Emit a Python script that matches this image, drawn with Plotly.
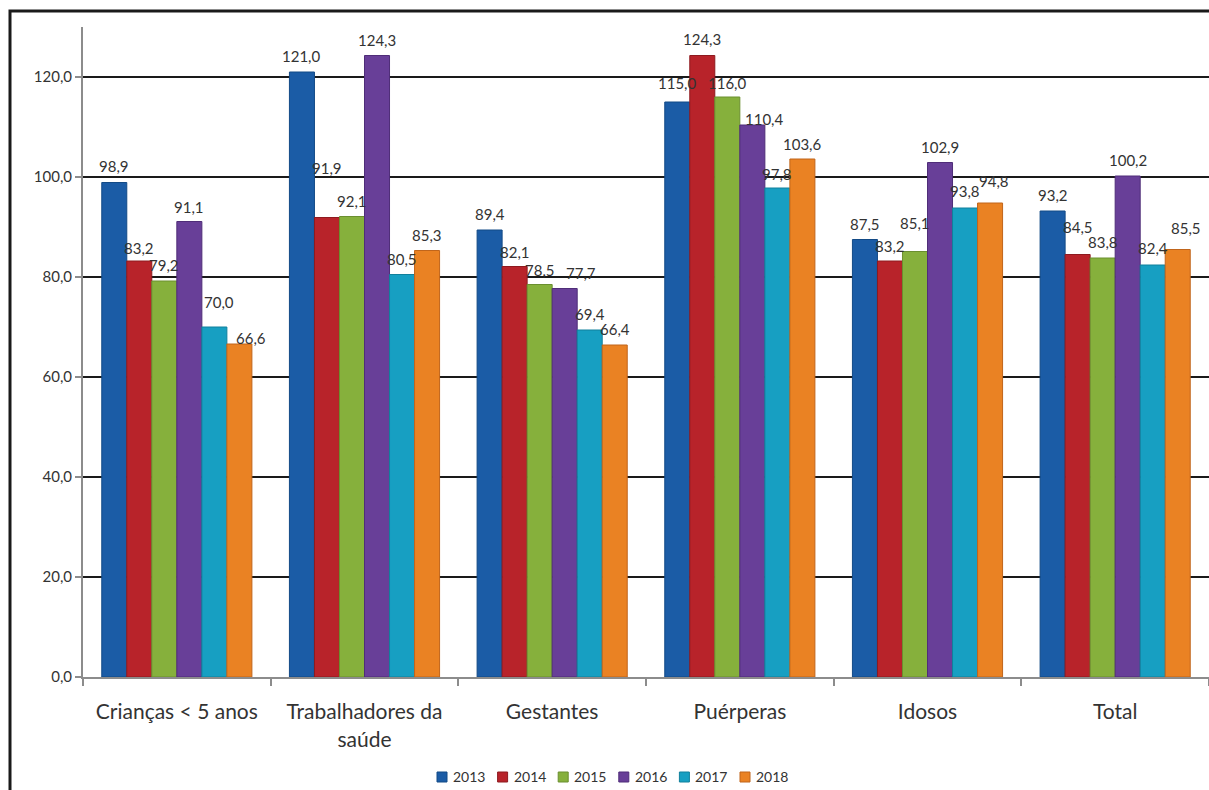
import plotly.graph_objects as go

# Categories, years and coverage values (%)
categories = ["Crianças < 5 anos", "Trabalhadores da<br>saúde", "Gestantes", "Puérperas", "Idosos", "Total"]
years = ["2013", "2014", "2015", "2016", "2017", "2018"]
v2013 = [98.9, 121.0, 89.4, 115.0, 87.5, 93.2]
v2014 = [83.2, 91.9, 82.1, 124.3, 83.2, 84.5]
v2015 = [79.2, 92.1, 78.5, 116.0, 85.1, 83.8]
v2016 = [91.1, 124.3, 77.7, 110.4, 102.9, 100.2]
v2017 = [70.0, 80.5, 69.4, 97.8, 93.8, 82.4]
v2018 = [66.6, 85.3, 66.4, 103.6, 94.8, 85.5]
y_ticks = [0, 20, 40, 60, 80, 100, 120]

series = [v2013, v2014, v2015, v2016, v2017, v2018]
colors = ["#1b5ca6", "#b8232a", "#86b03c", "#683f98", "#179fc2", "#ea8223"]
edges = ["#134a86", "#8e1a1f", "#6a8f2f", "#4f2d78", "#11809c", "#c0651b"]

# hand-placed value label nudges (pixels), per year then per category
label_dx = [
    [0, 0, 0, 0, 0, 0],
    [0, 0, 0, 0, 0, 0],
    [0, 0, 0, 0, 0, 0],
    [0, 0, 16, 12, 0, 0],
    [5, 0, 0, 0, 0, 0],
    [12, 0, 0, 0, 4, 8],
]
label_dy = [
    [1, 0, 0, 3, 0, 0],
    [-3, 34, -1, 1, -1, 12],
    [0, 0, -1, -2, 13, 0],
    [-1, 0, 0, -10, 0, 0],
    [9, 0, 0, -2, 1, 1],
    [-10, 0, 0, -1, 6, 6],
]

FONT = "Lato, 'Open Sans', sans-serif"
TXT = "#333333"

# plot area geometry in pixels
W, H = 1209, 790
L, R, T, B = 83, 0, 27, 113
PW, PH = W - L - R, H - T - B


def px_x(px):
    return (px - L) / PW


def px_y(py):
    return (H - B - py) / PH


fig = go.Figure()
for yr, vals, c, e in zip(years, series, colors, edges):
    fig.add_trace(go.Bar(
        name=yr, x=categories, y=vals,
        marker=dict(color=c, line=dict(color=e, width=1)),
        showlegend=False,
    ))

# value labels above each bar, placed at the grouped bar centres
bargap = 0.2
n = len(series)
group_w = 1 - bargap
annotations = []
for k, vals in enumerate(series):
    for i, v in enumerate(vals):
        xc = i - group_w / 2 + group_w * (k + 0.5) / n
        annotations.append(dict(
            x=xc, y=v, xref="x", yref="y",
            text=f"{v:.1f}".replace(".", ","),
            showarrow=False, yanchor="middle",
            yshift=16 + label_dy[k][i], xshift=label_dx[k][i],
            font=dict(family=FONT, size=15, color=TXT),
        ))

# legend row: small colour squares with the year beside each
shapes = []
leg_x0, leg_step, leg_y = 437, 60.6, 777
for k, (yr, c, e) in enumerate(zip(years, colors, edges)):
    sx = leg_x0 + k * leg_step
    shapes.append(dict(
        type="rect", xref="paper", yref="paper",
        x0=px_x(sx), x1=px_x(sx + 10), y0=px_y(leg_y + 5), y1=px_y(leg_y - 5),
        fillcolor=c, line=dict(color=e, width=1),
    ))
    annotations.append(dict(
        x=px_x(sx + 14), y=px_y(leg_y), xref="paper", yref="paper",
        text=yr, showarrow=False, xanchor="left", yanchor="middle",
        font=dict(family=FONT, size=14, color=TXT),
    ))

# outer frame round the chart
shapes.append(dict(
    type="rect", xref="paper", yref="paper",
    x0=px_x(10), x1=px_x(1270), y0=px_y(860), y1=px_y(11),
    line=dict(color="#1a1a1a", width=3), fillcolor="rgba(0,0,0,0)",
    layer="above",
))

fig.update_layout(
    width=W, height=H,
    margin=dict(l=L, r=R, t=T, b=B),
    paper_bgcolor="white", plot_bgcolor="white",
    barmode="group", bargap=bargap, bargroupgap=0.0,
    separators=",.",
    font=dict(family=FONT, color=TXT),
    annotations=annotations,
    shapes=shapes,
    showlegend=False,
)

fig.update_yaxes(
    range=[0, 130], tickvals=y_ticks, tickformat=".1f",
    showgrid=True, gridcolor="#1a1a1a", gridwidth=2,
    zeroline=False, showline=True, linecolor="#8c8c8c", linewidth=2,
    ticks="outside", ticklen=6, tickcolor="#8c8c8c", tickwidth=2,
    tickfont=dict(family=FONT, size=15, color=TXT),
)
fig.update_xaxes(
    showline=True, linecolor="#8c8c8c", linewidth=2,
    ticks="outside", tickson="boundaries", ticklen=7,
    tickcolor="#8c8c8c", tickwidth=2,
    tickfont=dict(family=FONT, size=21, color=TXT),
    ticklabelstandoff=15,
    showgrid=False,
)

fig.write_html("out.html")
